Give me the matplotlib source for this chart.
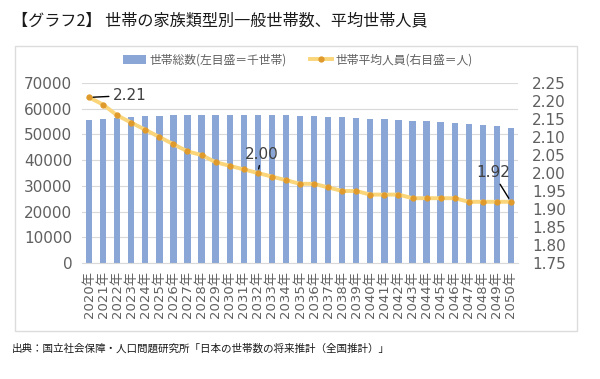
import numpy as np
import matplotlib
matplotlib.use("Agg")
import matplotlib.pyplot as plt
from matplotlib.patches import Rectangle

plt.rcParams['font.family'] = ['DejaVu Sans', 'Noto Sans CJK JP']
JP = ['Noto Sans CJK JP', 'DejaVu Sans']

# data
years = list(range(2020, 2051))
year_labels = [f"{y}年" for y in years]
households = [55740, 56000, 56390, 56780, 57040, 57300, 57430, 57430, 57690, 57690,
              57690, 57690, 57690, 57430, 57430, 57300, 57040, 56780, 56650, 56390,
              56130, 55870, 55610, 55350, 55090, 54830, 54440, 54060, 53670, 53280,
              52500]
avg_members = [2.21, 2.19, 2.16, 2.14, 2.12, 2.10, 2.08, 2.06, 2.05, 2.03,
               2.02, 2.01, 2.00, 1.99, 1.98, 1.97, 1.97, 1.96, 1.95, 1.95,
               1.94, 1.94, 1.94, 1.93, 1.93, 1.93, 1.93, 1.92, 1.92, 1.92,
               1.92]

grey_txt = '#606060'

fig = plt.figure(figsize=(6, 3.79), dpi=100)

# outer frame of the chart
fig.patches.append(Rectangle((15/600, 1-331/379), 562/600, 285/379,
                             transform=fig.transFigure, fill=False,
                             edgecolor='#dcdcdc', lw=1))

ax = fig.add_axes([82/600, 1-263/379, 436/600, 180/379])
x = np.arange(len(years))
bars = ax.bar(x, households, width=0.45, color='#8aa6d6', zorder=2,
              label='世帯総数(左目盛＝千世帯)')
ax.set_ylim(0, 70000)
ax.set_yticks(range(0, 70001, 10000))
ax.set_xlim(-0.5, len(years) - 0.5)
ax.set_xticks(x)
ax.set_xticklabels(year_labels, rotation=90, fontsize=9.5, color=grey_txt)
ax.tick_params(axis='both', length=0)
ax.tick_params(axis='y', labelsize=11, labelcolor=grey_txt, pad=7)
ax.tick_params(axis='x', pad=6)
ax.yaxis.grid(True, color='#d9d9d9', lw=0.8, zorder=0)
ax.set_axisbelow(True)
for s in ['top', 'left', 'right']:
    ax.spines[s].set_visible(False)
ax.spines['bottom'].set_color('#d9d9d9')

ax2 = ax.twinx()
line, = ax2.plot(x, avg_members, color='#fad57a', lw=2.8, marker='o',
                 markersize=3.5, markerfacecolor='#e09a2b', markeredgecolor='#e09a2b',
                 zorder=3, label='世帯平均人員(右目盛＝人)')
ax2.set_ylim(1.75, 2.25)
ax2.set_yticks(np.arange(1.75, 2.2501, 0.05))
ax2.set_yticklabels([f"{v:.2f}" for v in np.arange(1.75, 2.2501, 0.05)])
ax2.tick_params(axis='y', length=0, labelsize=11, labelcolor=grey_txt, pad=10)
for s in ax2.spines.values():
    s.set_visible(False)

# data labels
arrow = dict(arrowstyle='-', color='black', lw=1, shrinkA=1, shrinkB=3)
ax2.annotate(f"{avg_members[0]:.2f}", (x[0], avg_members[0]), xytext=(24, 2),
             textcoords='offset pixels', ha='left', va='center', fontsize=11,
             color='#404040', arrowprops=arrow)
ax2.annotate(f"{avg_members[12]:.2f}", (x[12], avg_members[12]), xytext=(4, 19),
             textcoords='offset pixels', ha='center', va='center', fontsize=11,
             color='#404040', arrowprops=arrow)
ax2.annotate(f"{avg_members[-1]:.2f}", (x[-1], avg_members[-1]), xytext=(-18, 29),
             textcoords='offset pixels', ha='center', va='center', fontsize=11,
             color='#404040', arrowprops=arrow)

fig.legend(handles=[bars, line], loc='center', bbox_to_anchor=(0.497, 1-60/379),
           ncol=2, frameon=False, prop={'family': JP, 'size': 8.5},
           handlelength=1.9, columnspacing=2.0, handletextpad=0.3,
           labelcolor=grey_txt)

fig.text(12/600, 1-21/379, '【グラフ2】 世帯の家族類型別一般世帯数、平均世帯人員',
         family=JP, fontsize=11.6, va='center', ha='left', color='#1a1a1a')
fig.text(12/600, 1-349/379, '出典：国立社会保障・人口問題研究所「日本の世帯数の将来推計（全国推計）」',
         family=JP, fontsize=7.6, va='center', ha='left', color='#1a1a1a')

fig.savefig('out.png', dpi=100)
